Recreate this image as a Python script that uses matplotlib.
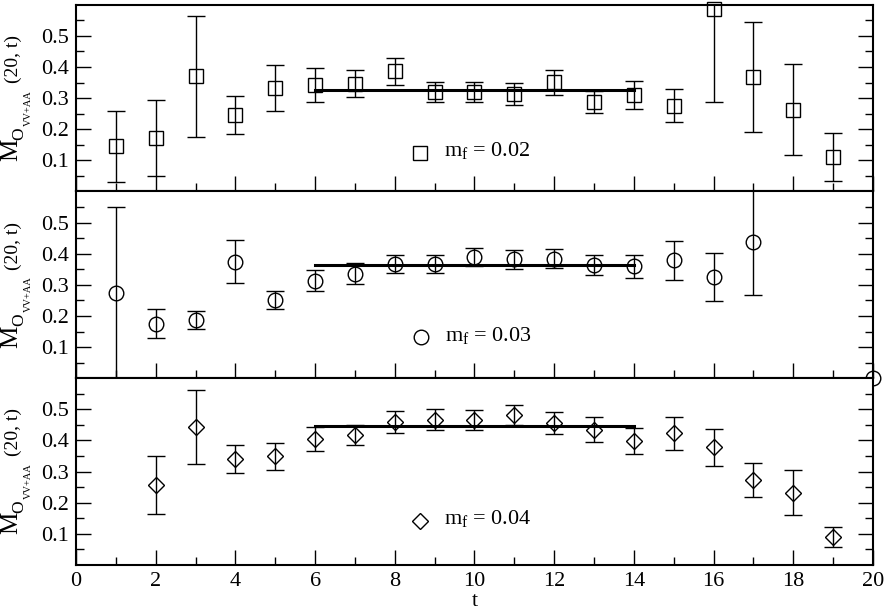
"""
Effective mass plateaus M_O(VV+AA)(20, t) for three valence masses.
"""
import matplotlib
matplotlib.use("Agg")
import matplotlib.pyplot as plt
from matplotlib.ticker import MultipleLocator, FixedLocator, FormatStrFormatter

# --- data ---
t_02 = [1, 2, 3, 4, 5, 6, 7, 8, 9, 10, 11, 12, 13, 14, 15, 16, 17, 18, 19]
m_02 = [0.145, 0.173, 0.370, 0.245, 0.333, 0.343, 0.346, 0.386, 0.319, 0.320,
        0.313, 0.351, 0.288, 0.310, 0.275, 0.585, 0.368, 0.263, 0.110]
e_02 = [0.115, 0.122, 0.194, 0.061, 0.074, 0.054, 0.043, 0.044, 0.032, 0.033,
        0.035, 0.040, 0.036, 0.046, 0.053, 0.296, 0.178, 0.145, 0.077]

t_03 = [1, 2, 3, 4, 5, 6, 7, 8, 9, 10, 11, 12, 13, 14, 15, 16, 17, 20]
m_03 = [0.273, 0.175, 0.186, 0.375, 0.251, 0.313, 0.336, 0.367, 0.366, 0.388,
        0.382, 0.384, 0.364, 0.359, 0.379, 0.325, 0.437, 0.0]
e_03 = [0.277, 0.046, 0.029, 0.069, 0.029, 0.034, 0.034, 0.030, 0.029, 0.029,
        0.030, 0.030, 0.032, 0.038, 0.062, 0.076, 0.170, 0.0]

t_04 = [2, 3, 4, 5, 6, 7, 8, 9, 10, 11, 12, 13, 14, 15, 16, 17, 18, 19]
m_04 = [0.256, 0.443, 0.341, 0.349, 0.405, 0.417, 0.460, 0.467, 0.465, 0.482,
        0.455, 0.435, 0.398, 0.423, 0.378, 0.273, 0.232, 0.090]
e_04 = [0.093, 0.119, 0.046, 0.043, 0.039, 0.033, 0.036, 0.034, 0.032, 0.032,
        0.035, 0.040, 0.043, 0.054, 0.059, 0.054, 0.072, 0.032]

# plateau fits (value, t range)
fit_vals = [0.325, 0.365, 0.447]
fit_range = [6, 14]

labels = ["0.02", "0.03", "0.04"]
markers = ["s", "o", "D"]
msizes = [9.5, 10.5, 8.2]
# legend marker anchor per panel (t, value)
leg_pos = [(8.63, 0.125), (8.66, 0.132), (8.63, 0.142)]

panels = [(t_02, m_02, e_02), (t_03, m_03, e_03), (t_04, m_04, e_04)]

plt.rcParams.update({
    "font.family": ["Liberation Serif", "DejaVu Serif"],
    "font.size": 16,
    "mathtext.fontset": "custom",
    "mathtext.rm": "Liberation Serif",
    "mathtext.it": "Liberation Serif:italic",
    "mathtext.bf": "Liberation Serif:bold",
    "axes.linewidth": 1.5,
})

W, H = 886, 612
fig = plt.figure(figsize=(W / 100, H / 100), dpi=100)
gs = fig.add_gridspec(3, 1, left=0.0858, right=0.9853, bottom=0.0768,
                      top=0.9923, hspace=0)


def ylabel_pieces(top_px):
    # the y label is built from pieces, xmgrace style: big M, O subscript,
    # tiny VV+AA, then "(20, t)" back at normal size
    kw = dict(rotation=90, ha="left", va="bottom")
    fig.text(0.0 / W, 1 - (top_px + 156) / H, "M", fontsize=18, **kw)
    fig.text(11.5 / W, 1 - (top_px + 135) / H, "O", fontsize=12.5, **kw)
    fig.text(24 / W, 1 - (top_px + 121) / H, "VV+AA", fontsize=7.5, **kw)
    fig.text(5 / W, 1 - (top_px + 78) / H, "(20, t)", fontsize=14, **kw)


for k, (t, m, e) in enumerate(panels):
    ax = fig.add_subplot(gs[k])
    ax.set_xlim(0, 20)
    ax.set_ylim(0, 0.6)

    # error bars are clipped at the panel edges, markers are not
    ax.errorbar(t, m, yerr=e, fmt="none", ecolor="black", elinewidth=1.0,
                capsize=6.4, capthick=1.0)
    ax.plot(t, m, linestyle="none", marker=markers[k], ms=msizes[k],
            mfc="none", mec="black", mew=1.0, clip_on=False, zorder=4)
    ax.plot(fit_range, [fit_vals[k]] * 2, color="black", lw=2.2, zorder=3)

    # legend-like marker + text
    lx, ly = leg_pos[k]
    ax.plot([lx], [ly], linestyle="none", marker=markers[k], ms=msizes[k],
            mfc="none", mec="black", mew=1.0)
    ax.text(lx + 0.6, ly + 0.006, r"$\mathrm{m}_\mathrm{f}$ = " + labels[k],
            ha="left", va="center", fontsize=16)

    # --- ticks ---
    ax.xaxis.set_major_locator(MultipleLocator(2))
    ax.xaxis.set_minor_locator(MultipleLocator(1))
    ax.yaxis.set_major_locator(FixedLocator([0.1, 0.2, 0.3, 0.4, 0.5]))
    ax.yaxis.set_minor_locator(FixedLocator([0.05, 0.15, 0.25, 0.35, 0.45, 0.55]))
    ax.yaxis.set_major_formatter(FormatStrFormatter("%.1f"))
    ax.tick_params(which="both", direction="in", top=False, right=True,
                   width=1.0, labelsize=16, pad=5)
    ax.tick_params(which="major", length=11)
    ax.tick_params(which="minor", length=6)
    if k < 2:
        ax.tick_params(labelbottom=False)
    else:
        ax.set_xlabel("t", fontsize=16, labelpad=1)

    ylabel_pieces(4.7 + 186.8 * k)

fig.savefig("out.png", dpi=100, facecolor="white")
